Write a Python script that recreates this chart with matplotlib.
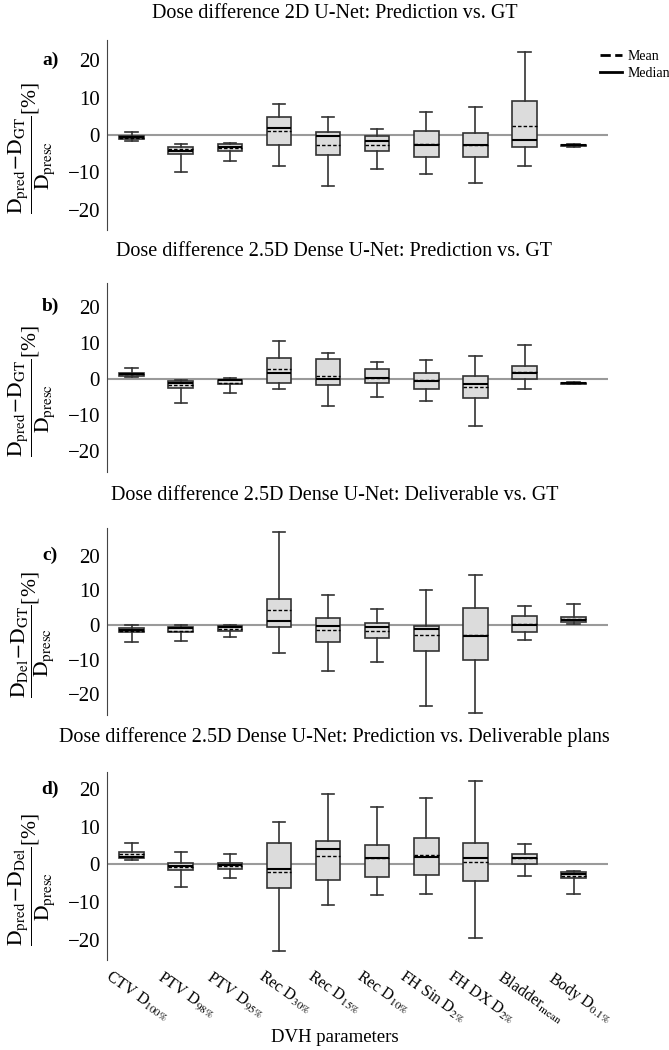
import matplotlib
matplotlib.use('Agg')
import matplotlib.pyplot as plt
from matplotlib.lines import Line2D
from matplotlib.transforms import ScaledTranslation

plt.rcParams['font.family'] = ['Liberation Serif', 'DejaVu Serif']
plt.rcParams['mathtext.fontset'] = 'stix'

# DVH parameters (x categories)
params = [r'CTV D$_{100\%}$', r'PTV D$_{98\%}$', r'PTV D$_{95\%}$', r'Rec D$_{30\%}$',
          r'Rec D$_{15\%}$', r'Rec D$_{10\%}$', r'FH Sin D$_{2\%}$', r'FH DX D$_{2\%}$',
          r'Bladder$_{\mathrm{mean}}$', r'Body D$_{0.1\%}$']

# a) 2D U-Net: prediction vs GT
a_q1 = [-1.2, -5.2, -4.2, -2.7, -5.3, -4.4, -5.8, -5.9, -3.1, -3.0]
a_med = [-0.6, -4.2, -3.3, 1.9, -0.4, -1.7, -2.8, -2.8, -1.4, -2.8]
a_q3 = [-0.4, -3.1, -2.4, 4.7, 0.9, -0.4, 1.1, 0.5, 9.1, -2.6]
a_mean = [-0.7, -3.7, -3.4, 1.2, -2.6, -2.8, -2.3, -2.7, 2.3, -2.8]
a_lo = [-1.5, -10.0, -7.1, -8.4, -13.7, -9.2, -10.4, -12.8, -8.4, -3.1]
a_hi = [0.9, -2.4, -2.1, 8.3, 4.9, 1.5, 6.2, 7.6, 22.4, -2.5]

# b) 2.5D Dense U-Net: prediction vs GT
b_q1 = [0.8, -2.6, -1.5, -1.2, -1.7, -1.2, -2.8, -5.2, 0.0, -1.4]
b_med = [1.4, -1.0, -0.4, 1.7, 0.1, 0.2, -0.6, -1.5, 1.7, -1.2]
b_q3 = [1.7, -0.7, -0.2, 5.9, 5.4, 2.7, 1.6, 0.9, 3.7, -1.0]
b_mean = [1.3, -1.8, -1.0, 2.7, 0.8, 0.2, -0.4, -2.1, 2.0, -1.2]
b_lo = [0.5, -6.7, -3.9, -2.7, -7.6, -4.9, -6.0, -13.1, -2.7, -1.5]
b_hi = [2.9, -0.2, 0.2, 10.6, 7.1, 4.6, 5.1, 6.4, 9.4, -0.9]

# c) 2.5D Dense U-Net: deliverable vs GT
c_q1 = [-2.0, -2.1, -1.6, -0.5, -4.9, -3.9, -7.5, -10.2, -1.9, 1.0]
c_med = [-1.4, -1.0, -0.6, 1.1, -0.4, -0.7, -1.1, -3.1, -0.1, 1.3]
c_q3 = [-1.0, -0.7, -0.2, 7.5, 2.1, 0.7, -0.3, 4.8, 2.7, 2.2]
c_mean = [-1.6, -1.6, -1.1, 4.3, -1.5, -1.6, -2.9, -3.0, 0.3, 1.8]
c_lo = [-4.8, -4.7, -3.5, -8.1, -13.4, -10.7, -23.5, -25.3, -4.4, 0.2]
c_hi = [0.0, -0.1, 0.0, 26.9, 8.7, 4.7, 10.0, 14.5, 5.5, 6.0]

# d) 2.5D Dense U-Net: prediction vs deliverable
d_q1 = [1.6, -1.5, -1.1, -6.1, -4.2, -3.3, -2.9, -4.5, 0.0, -3.7]
d_med = [2.1, -0.4, -0.2, -1.2, 4.0, 1.6, 1.9, 1.6, 1.7, -2.6]
d_q3 = [3.2, 0.5, 0.5, 5.8, 6.2, 5.2, 6.9, 5.6, 2.9, -2.1]
d_mean = [2.7, -0.6, -0.4, -1.9, 2.2, 1.8, 2.5, 0.7, 1.7, -3.1]
d_lo = [1.2, -5.9, -3.5, -22.9, -10.7, -8.2, -7.7, -19.6, -3.1, -7.8]
d_hi = [5.8, 3.4, 2.9, 11.2, 18.8, 15.2, 17.5, 22.2, 5.5, -1.6]

titles = ['Dose difference 2D U-Net: Prediction vs. GT',
          'Dose difference 2.5D Dense U-Net: Prediction vs. GT',
          'Dose difference 2.5D Dense U-Net: Deliverable vs. GT',
          'Dose difference 2.5D Dense U-Net: Prediction vs. Deliverable plans']
ylabels = [r'$\dfrac{\mathrm{D_{pred}\!-\!D_{GT}}}{\mathrm{D_{presc}}}$[%]',
           r'$\dfrac{\mathrm{D_{pred}\!-\!D_{GT}}}{\mathrm{D_{presc}}}$[%]',
           r'$\dfrac{\mathrm{D_{Del}\!-\!D_{GT}}}{\mathrm{D_{presc}}}$[%]',
           r'$\dfrac{\mathrm{D_{pred}\!-\!D_{Del}}}{\mathrm{D_{presc}}}$[%]']
letters = ['a)', 'b)', 'c)', 'd)']
panels = [(a_q1, a_med, a_q3, a_mean, a_lo, a_hi),
          (b_q1, b_med, b_q3, b_mean, b_lo, b_hi),
          (c_q1, c_med, c_q3, c_mean, c_lo, c_hi),
          (d_q1, d_med, d_q3, d_mean, d_lo, d_hi)]

W, H = 669, 1050
fig = plt.figure(figsize=(W / 100, H / 100), dpi=100)

# axes extents in pixels (top, bottom) and y-limits
extents = [(40, 230), (283, 472), (528, 715), (772, 960)]
ylims = [(-25.5, 25.5), (-25.7, 26.5), (-26, 28), (-25.3, 24.5)]
title_y = [14, 252, 495, 737]
left, right = 107, 608

for i, (q1, med, q3, mn, lo, hi) in enumerate(panels):
    top, bot = extents[i]
    ax = fig.add_axes([left / W, 1 - bot / H, (right - left) / W, (bot - top) / H])
    stats = []
    for k in range(len(params)):
        stats.append(dict(q1=q1[k], med=med[k], q3=q3[k], mean=mn[k],
                          whislo=lo[k], whishi=hi[k], fliers=[]))
    ax.axhline(0, color='#9a9a9a', lw=1.5, zorder=0)
    ax.bxp(stats, positions=range(1, 11), widths=0.5, showmeans=True, meanline=True,
           showfliers=False, patch_artist=True,
           boxprops=dict(facecolor='#dcdcdc', edgecolor='#333333', linewidth=1.2),
           whiskerprops=dict(color='#333333', linewidth=1.2),
           capprops=dict(color='#333333', linewidth=1.2),
           medianprops=dict(color='black', linewidth=1.5),
           meanprops=dict(color='black', linewidth=1.0, linestyle=(0, (2.5, 1.5))))
    ax.set_xlim(0.5, 10.7)
    ax.set_ylim(*ylims[i])
    ax.set_yticks([-20, -10, 0, 10, 20])
    for s in ['top', 'right', 'bottom']:
        ax.spines[s].set_visible(False)
    ax.spines['left'].set_color('#444444')
    ax.tick_params(axis='both', length=0, labelsize=15, pad=5)
    if i < 3:
        ax.set_xticks([])
    else:
        ax.set_xticks(range(1, 11))
        ax.set_xticklabels(params, rotation=-35, ha='center', fontsize=11.5)
        ax.tick_params(axis='x', pad=6)
        shift = ScaledTranslation(6 / 100, 0, fig.dpi_scale_trans)
        for lbl in ax.get_xticklabels():
            lbl.set_transform(lbl.get_transform() + shift)
    ax.set_ylabel(ylabels[i], fontsize=15.5)
    ax.yaxis.set_label_coords(-0.1, 0.43)
    ax.text(-0.113, 20, letters[i], transform=ax.get_yaxis_transform(), ha='center',
            va='center', fontsize=14, fontweight='bold')
    fig.text(0.5, 1 - title_y[i] / H, titles[i], ha='center', va='center', fontsize=14.5)

fig.text(0.5, 1 - 1037 / H, 'DVH parameters', ha='center', va='center', fontsize=13.5)

handles = [Line2D([], [], color='black', lw=2, linestyle='--'),
           Line2D([], [], color='black', lw=2)]
fig.legend(handles, ['Mean', 'Median'], loc='upper left', bbox_to_anchor=(594 / W, 1 - 44 / H),
           frameon=False, fontsize=10, handlelength=1.6, handletextpad=0.4,
           labelspacing=0.3, borderaxespad=0)

fig.savefig('out.png', dpi=100)
